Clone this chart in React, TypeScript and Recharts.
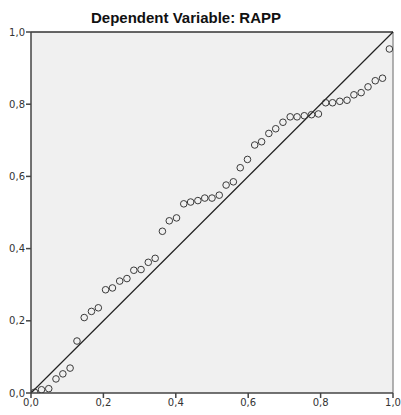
import React from 'react'
import { ScatterChart, Scatter, XAxis, YAxis, CartesianGrid, ReferenceLine } from 'recharts'

// observed cumulative probability (x) and expected cumulative probability (y)
const observedProb = [
  0.010, 0.029, 0.049, 0.069, 0.088, 0.108, 0.127, 0.147, 0.167, 0.186,
  0.206, 0.225, 0.245, 0.265, 0.284, 0.304, 0.324, 0.343, 0.363, 0.382,
  0.402, 0.422, 0.441, 0.461, 0.480, 0.500, 0.520, 0.539, 0.559, 0.578,
  0.598, 0.618, 0.637, 0.657, 0.676, 0.696, 0.716, 0.735, 0.755, 0.775,
  0.794, 0.814, 0.833, 0.853, 0.873, 0.892, 0.912, 0.931, 0.951, 0.971,
  0.990,
]

const expectedProb = [
  0.002, 0.009, 0.012, 0.039, 0.053, 0.069, 0.144, 0.209, 0.226, 0.236,
  0.286, 0.291, 0.310, 0.317, 0.340, 0.342, 0.362, 0.373, 0.448, 0.477,
  0.485, 0.524, 0.529, 0.533, 0.540, 0.540, 0.548, 0.576, 0.585, 0.624,
  0.647, 0.687, 0.696, 0.719, 0.732, 0.750, 0.765, 0.765, 0.768, 0.771,
  0.773, 0.804, 0.804, 0.808, 0.811, 0.826, 0.832, 0.848, 0.865, 0.872,
  0.953,
]

const axisTicks = [0, 0.2, 0.4, 0.6, 0.8, 1.0]

const points = observedProb.map((x, i) => ({ x, y: expectedProb[i] }))

const fmt = (v: number) => v.toFixed(1).replace('.', ',')

const Ring = (props: any) => {
  const { cx, cy } = props
  return <circle cx={cx} cy={cy} r={3.3} fill="none" stroke="#3a3a3a" strokeWidth={1} />
}

export default function App() {
  const tickStyle = { fontSize: 10, fill: '#333', fontFamily: 'DejaVu Sans, sans-serif' }
  return (
    <div style={{ position: 'absolute', left: 0, top: 0, width: 401, height: 415, background: '#fff' }}>
      <div
        style={{
          position: 'absolute',
          left: 0,
          width: 372,
          top: 9,
          textAlign: 'center',
          fontFamily: 'Liberation Sans, Arial, sans-serif',
          fontWeight: 'bold',
          fontSize: 15,
          lineHeight: '18px',
          color: '#111',
        }}
      >
        Dependent Variable: RAPP
      </div>
      <ScatterChart width={401} height={415} margin={{ top: 32, right: 8, bottom: 0, left: 0 }}>
        <CartesianGrid horizontal={false} vertical={false} fill="#f0f0f0" />
        <XAxis
          type="number"
          dataKey="x"
          domain={[0, 1]}
          ticks={axisTicks}
          tickFormatter={fmt}
          height={22}
          tickSize={5}
          tickMargin={1}
          tick={tickStyle}
          stroke="#444"
          strokeWidth={1.5}
          allowDataOverflow
        />
        <YAxis
          type="number"
          dataKey="y"
          domain={[0, 1]}
          ticks={axisTicks}
          tickFormatter={fmt}
          width={31}
          tickSize={5}
          tickMargin={1}
          tick={tickStyle}
          stroke="#444"
          strokeWidth={1.5}
          allowDataOverflow
        />
        <ReferenceLine y={1} stroke="#333" strokeWidth={1.5} />
        <ReferenceLine x={1} stroke="#999" strokeWidth={1.5} />
        <ReferenceLine
          segment={[{ x: 0, y: 0 }, { x: 1, y: 1 }]}
          stroke="#222"
          strokeWidth={1.2}
        />
        <Scatter data={points} shape={<Ring />} isAnimationActive={false} />
      </ScatterChart>
    </div>
  )
}
